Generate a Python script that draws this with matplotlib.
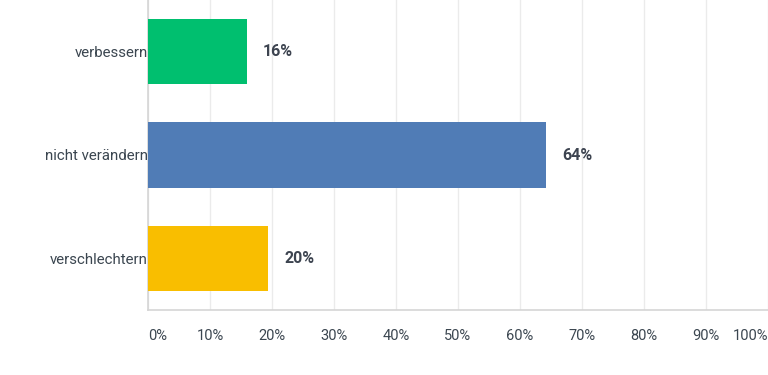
import matplotlib
matplotlib.use("Agg")
import matplotlib.pyplot as plt

# Antworten und Anteile (in %)
kategorien = ["verbessern", "nicht verändern", "verschlechtern"]
anteile = [15.9, 64.2, 19.4]
beschriftung = ["16%", "64%", "20%"]
farben = ["#00bf6f", "#507cb6", "#f9be00"]
ticks = [0, 10, 20, 30, 40, 50, 60, 70, 80, 90, 100]

plt.rcParams['font.family'] = ['Roboto', 'DejaVu Sans']

fig = plt.figure(figsize=(7.68, 3.75), dpi=100)
ax = fig.add_axes([148/768, 65/375, 620/768, 310/375])

y = range(len(kategorien))
ax.barh(y, anteile, height=0.63, color=farben, zorder=3)
ax.set_ylim(2.5, -0.5)
ax.set_xlim(0, 100)

for i, v in enumerate(anteile):
    ax.text(v + 2.6, i, beschriftung[i], va="center", ha="left",
            fontsize=11.5, fontweight="semibold", color="#3d4450")

ax.set_yticks(list(y))
ax.set_yticklabels(kategorien, fontsize=10.8, color="#3b4650")
ax.tick_params(axis="y", length=0, pad=0)

ax.set_xticks(ticks)
ax.set_xticklabels([f"{t}%" for t in ticks], fontsize=10.5, color="#3b4650")
ax.tick_params(axis="x", length=0, pad=14)
lbls = ax.get_xticklabels()
lbls[0].set_ha("left")
lbls[-1].set_ha("right")

ax.grid(axis="x", color="#ebebeb", linewidth=1, zorder=0)
for s in ["top", "right"]:
    ax.spines[s].set_visible(False)
ax.spines["left"].set_color("#d5d5d5")
ax.spines["bottom"].set_color("#d5d5d5")
ax.spines["left"].set_linewidth(1.2)
ax.spines["bottom"].set_linewidth(1.2)

fig.savefig("out.png", dpi=100)
